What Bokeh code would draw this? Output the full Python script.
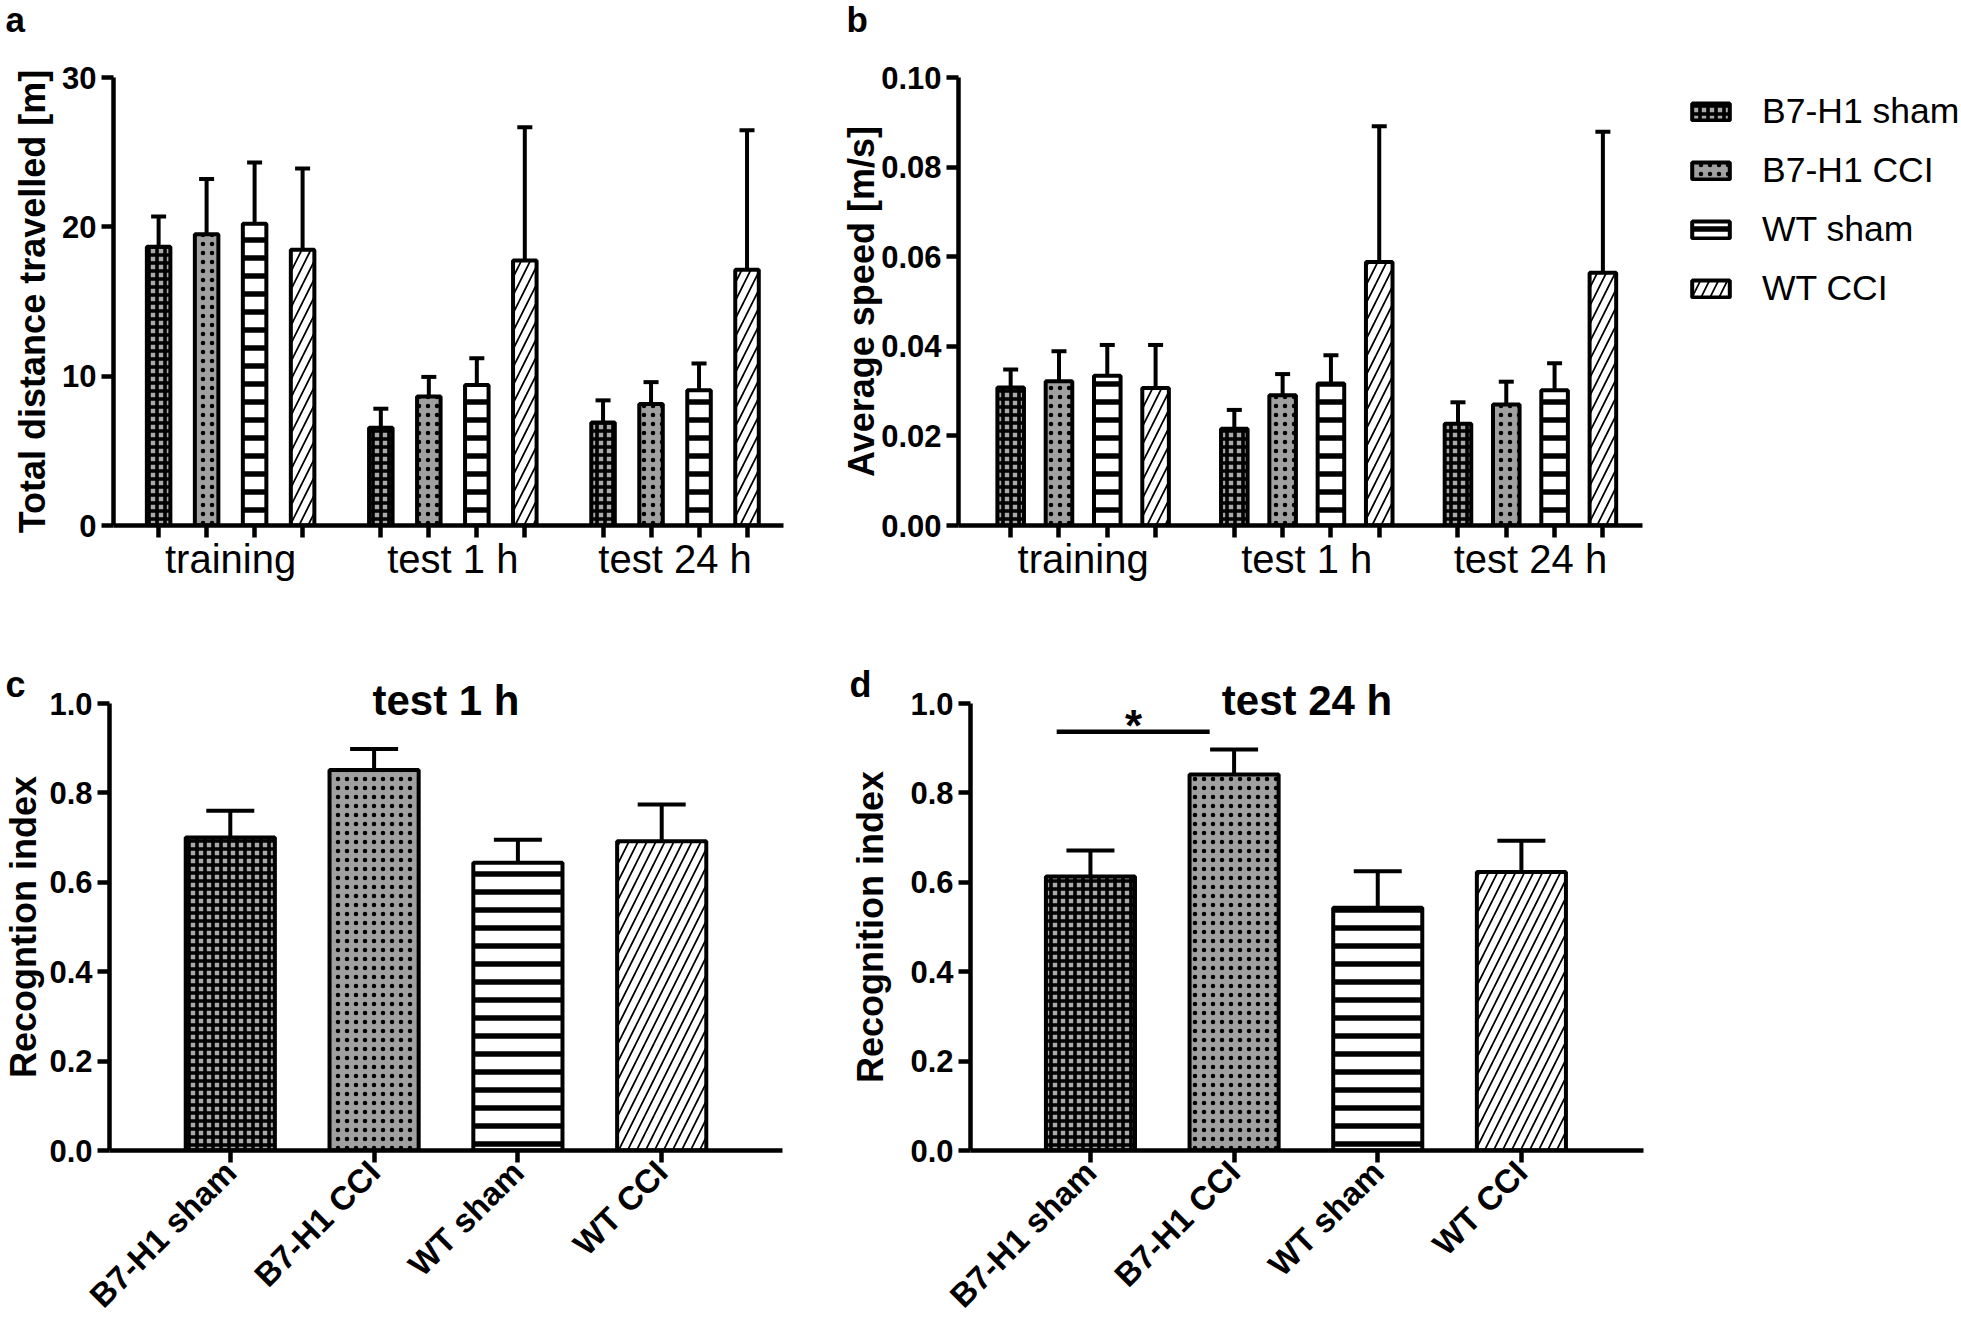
from bokeh.plotting import figure
from bokeh.models import (Range1d, FixedTicker, Whisker, TeeHead, ColumnDataSource, Spacer,
                          Legend, LegendItem, Title, PrintfTickFormatter)
from bokeh.layouts import row, column
from bokeh.embed import file_html
from bokeh.resources import INLINE
from bokeh.core.properties import value
import math

# ---------------- data ----------------
groups = ["B7-H1 sham", "B7-H1 CCI", "WT sham", "WT CCI"]
phases = ["training", "test 1 h", "test 24 h"]

# (a) total distance travelled [m] (mean, SEM) per phase
dist_b7_sham = [18.67, 6.54, 6.90]
dist_b7_cci = [19.51, 8.64, 8.13]
dist_wt_sham = [20.20, 9.41, 9.05]
dist_wt_cci = [18.47, 17.74, 17.13]
dist_sem_b7_sham = [2.03, 1.28, 1.48]
dist_sem_b7_cci = [3.69, 1.31, 1.47]
dist_sem_wt_sham = [4.10, 1.79, 1.80]
dist_sem_wt_cci = [5.43, 8.93, 9.33]

# (b) average speed [m/s] (mean, SEM) per phase
speed_b7_sham = [0.0308, 0.0216, 0.0227]
speed_b7_cci = [0.0322, 0.0291, 0.0270]
speed_wt_sham = [0.0334, 0.0317, 0.0302]
speed_wt_cci = [0.0307, 0.0588, 0.0564]
speed_sem_b7_sham = [0.0040, 0.0042, 0.0048]
speed_sem_b7_cci = [0.0067, 0.0047, 0.0051]
speed_sem_wt_sham = [0.0069, 0.0063, 0.0060]
speed_sem_wt_cci = [0.0096, 0.0303, 0.0315]

# (c) recognition index, test 1 h ; (d) test 24 h
ri_1h = [0.700, 0.851, 0.644, 0.692]
ri_1h_sem = [0.060, 0.047, 0.051, 0.082]
ri_24h = [0.613, 0.841, 0.543, 0.623]
ri_24h_sem = [0.058, 0.056, 0.082, 0.070]

# significance bar in (d)
sig_x0 = [-0.235]
sig_x1 = [0.83]
sig_y = [0.937]
star_x = [0.30]
star_y = [0.95]
star_text = ["*"]

yticks_dist = [0, 10, 20, 30]
yticks_speed = [0.0, 0.02, 0.04, 0.06, 0.08, 0.10]
yticks_ri = [0.0, 0.2, 0.4, 0.6, 0.8, 1.0]

top_letters = ["a", "b"]

# ---------------- style ----------------
FONT = "Liberation Sans"
LW = 4
AXW = 4.5
GROUP_STEP = 4.63
STRIP_H = 50
ROW1_H = 612 - STRIP_H
LEG_PAD = 6

STYLES = [
    dict(fill_color="#a9a9a9", hatch_pattern="cross", hatch_scale=8, hatch_weight=3.6),
    dict(fill_color="#a0a0a0", hatch_pattern="dot", hatch_scale=9, hatch_weight=1),
    dict(fill_color="#ffffff", hatch_pattern="horizontal_line", hatch_scale=18, hatch_weight=5.5),
    dict(fill_color="#ffffff", hatch_pattern="right_diagonal_line", hatch_scale=18, hatch_weight=1.7),
]


def base_fig(width, height, xr, yr, ml, mr, mt, mb):
    p = figure(width=width, height=height, x_range=Range1d(*xr), y_range=Range1d(*yr),
               min_border_left=ml, min_border_right=mr, min_border_top=mt, min_border_bottom=mb,
               toolbar_location=None, output_backend="svg")
    p.grid.visible = False
    p.outline_line_color = None
    p.background_fill_color = "white"
    p.border_fill_color = "white"
    for ax in p.axis:
        ax.axis_line_width = AXW
        ax.axis_line_color = "black"
        ax.major_tick_line_width = AXW
        ax.minor_tick_line_width = AXW
        ax.major_tick_line_color = "black"
        ax.major_tick_in = 0
        ax.minor_tick_in = 0
    return p


def blank_fig(width, height, xr, yr):
    p = figure(width=width, height=height, x_range=Range1d(*xr), y_range=Range1d(*yr),
               min_border=0, x_axis_type=None, y_axis_type=None,
               toolbar_location=None, output_backend="svg")
    p.grid.visible = False
    p.outline_line_color = None
    p.background_fill_color = "white"
    p.border_fill_color = "white"
    return p


def style_yaxis(p, ticks, fmt, title, standoff):
    ax = p.yaxis[0]
    ax.ticker = FixedTicker(ticks=ticks)
    ax.formatter = PrintfTickFormatter(format=fmt)
    ax.major_tick_out = 12
    ax.minor_tick_line_color = None
    ax.major_label_text_font = FONT
    ax.major_label_text_font_size = "31px"
    ax.major_label_text_font_style = "bold"
    ax.major_label_text_color = "black"
    ax.major_label_standoff = 5
    ax.axis_label = title
    ax.axis_label_text_font = FONT
    ax.axis_label_text_font_size = "36px"
    ax.axis_label_text_font_style = "bold"
    ax.axis_label_text_color = "black"
    ax.axis_label_standoff = standoff


def add_bar(p, src, bar_w, cap, style):
    r = p.vbar(x="x", top="top", width=bar_w, source=src, line_color="black", line_width=LW,
               hatch_color="black", **style)
    p.add_layout(Whisker(source=src, base="x", lower="top", upper="upper", dimension="height",
                         line_width=LW, line_color="black", lower_head=None,
                         upper_head=TeeHead(size=cap, line_width=LW, line_color="black")))
    return r


def grouped_panel(p, series_means, series_sems, bar_w, cap):
    for i, (means, sems) in enumerate(zip(series_means, series_sems)):
        xs = [g * GROUP_STEP + i for g in range(len(phases))]
        src = ColumnDataSource(dict(x=xs, top=means, upper=[m + s for m, s in zip(means, sems)]))
        add_bar(p, src, bar_w, cap, STYLES[i])
    centers = [round(g * GROUP_STEP + 1.5, 4) for g in range(len(phases))]
    bars = [g * GROUP_STEP + i for g in range(len(phases)) for i in range(len(groups))]
    ax = p.xaxis[0]
    ax.ticker = FixedTicker(ticks=centers, minor_ticks=bars)
    ax.major_tick_out = 0
    ax.major_tick_line_color = None
    ax.minor_tick_out = 12
    ax.minor_tick_line_color = "black"
    ax.major_label_overrides = {c: n for c, n in zip(centers, phases)}
    ax.major_label_text_font = FONT
    ax.major_label_text_font_size = "40px"
    ax.major_label_text_font_style = "normal"
    ax.major_label_text_color = "black"
    ax.major_label_standoff = -1


def single_panel(p, means, sems, bar_w, cap, title, title_offset, letter, letter_offset):
    xs = list(range(len(groups)))
    for i in xs:
        src = ColumnDataSource(dict(x=[i], top=[means[i]], upper=[means[i] + sems[i]]))
        add_bar(p, src, bar_w, cap, STYLES[i])
    ax = p.xaxis[0]
    ax.ticker = FixedTicker(ticks=xs)
    ax.major_tick_out = 12
    ax.minor_tick_line_color = None
    ax.major_label_overrides = {i: g for i, g in zip(xs, groups)}
    ax.major_label_orientation = math.pi / 4
    ax.major_label_text_font = FONT
    ax.major_label_text_font_size = "33px"
    ax.major_label_text_font_style = "bold"
    ax.major_label_text_color = "black"
    ax.major_label_standoff = 4
    # panel letter (outermost title)
    p.title.text = letter
    p.title.align = "left"
    p.title.offset = letter_offset
    p.title.standoff = -20
    p.title.text_font = FONT
    p.title.text_font_size = "36px"
    p.title.text_font_style = "bold"
    p.title.text_color = "black"
    # panel title (next to the frame)
    p.add_layout(Title(text=title, align="center", offset=title_offset, standoff=-40,
                       text_font=FONT, text_font_size="42px", text_font_style="bold",
                       text_color="black"), "above")


# ---------------- strip with panel letters a, b ----------------
strip = blank_fig(1961, STRIP_H, (0, 1961), (0, STRIP_H))
strip.text(x=[5, 846], y=[31, 31], text=top_letters, text_font=value(FONT), text_font_size="35px",
           text_font_style="bold", text_align="left", text_baseline="alphabetic", text_color="black")

# ---------------- panel a ----------------
pa = base_fig(830, ROW1_H, (-0.94, 13.02), (0, 30), 113, 47, 77 - STRIP_H, 87)
style_yaxis(pa, yticks_dist, "%d", "Total distance travelled [m]", 6)
grouped_panel(pa, [dist_b7_sham, dist_b7_cci, dist_wt_sham, dist_wt_cci],
              [dist_sem_b7_sham, dist_sem_b7_cci, dist_sem_wt_sham, dist_sem_wt_cci], 0.49, 15)

# ---------------- panel b ----------------
pb = base_fig(822, ROW1_H, (-1.08, 13.08), (0, 0.10), 128, 10, 77 - STRIP_H, 87)
style_yaxis(pb, yticks_speed, "%.2f", "Average speed [m/s]", -4)
grouped_panel(pb, [speed_b7_sham, speed_b7_cci, speed_wt_sham, speed_wt_cci],
              [speed_sem_b7_sham, speed_sem_b7_cci, speed_sem_wt_sham, speed_sem_wt_cci], 0.55, 15)

# ---------------- legend ----------------
pl = blank_fig(309, ROW1_H - LEG_PAD, (0, 1), (0, 1))
leg_renderers = []
for i in range(len(groups)):
    r = pl.vbar(x=[0.5], top=[1], width=0.5, line_color="black", line_width=LW,
                hatch_color="black", **STYLES[i])
    r.visible = False
    leg_renderers.append(r)
legend = Legend(items=[LegendItem(label=g, renderers=[r]) for g, r in zip(groups, leg_renderers)],
                location="top_left", label_text_font=FONT, label_text_font_size="35.5px",
                label_text_color="black", glyph_width=47, glyph_height=21, label_standoff=28,
                label_height=21, spacing=18, padding=0, margin=35, border_line_color=None,
                background_fill_alpha=0)
pl.add_layout(legend)
legend_col = column(Spacer(width=309, height=LEG_PAD), pl)

# ---------------- panel c ----------------
pc = base_fig(830, 718, (-0.84, 3.84), (0, 1.0), 109, 48, 91, 179)
style_yaxis(pc, yticks_ri, "%.1f", "Recogntion index", 2)
single_panel(pc, ri_1h, ri_1h_sem, 0.62, 48, "test 1 h", 0, "c", -104)

# ---------------- panel d ----------------
pd_ = base_fig(1131, 718, (-0.835, 3.85), (0, 1.0), 140, 318, 91, 179)
style_yaxis(pd_, yticks_ri, "%.1f", "Recognition index", 16)
single_panel(pd_, ri_24h, ri_24h_sem, 0.62, 48, "test 24 h", 10, "d", -121)
pd_.segment(x0=sig_x0, y0=sig_y, x1=sig_x1, y1=sig_y, line_width=4.5, line_color="black")
pd_.text(x=star_x, y=star_y, text=star_text, text_font=value(FONT), text_font_size="44px",
         text_font_style="bold", text_align="center", text_baseline="alphabetic", text_color="black")

layout = column(strip, row(pa, pb, legend_col), row(pc, pd_))
open("out.html", "w").write(file_html(layout, INLINE))
